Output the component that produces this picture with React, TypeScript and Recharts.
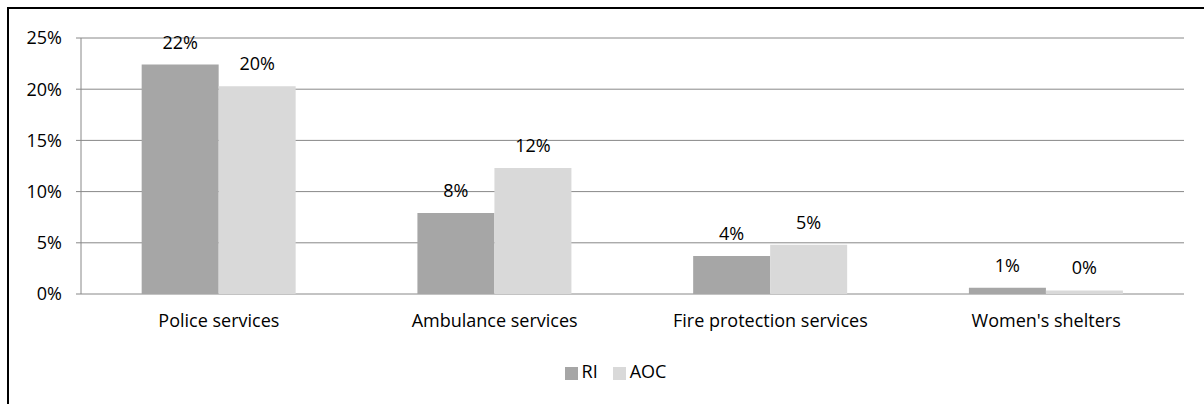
import { BarChart, Bar, XAxis, YAxis, CartesianGrid, Legend, LabelList } from "recharts";

const categories = ["Police services", "Ambulance services", "Fire protection services", "Women's shelters"];
const seriesNames = ["RI", "AOC"];
const riValues = [22.4, 7.9, 3.7, 0.6];
const aocValues = [20.3, 12.3, 4.8, 0.35];
const yTicks = [0, 5, 10, 15, 20, 25];
const edgeTicks = [0, 1, 2, 3, 4];

const data = categories.map((name, i) => ({ name, RI: riValues[i], AOC: aocValues[i] }));

const font = "'Open Sans', sans-serif";
const fontSize = 18;
const axisGray = "#888888";

const App = () => {
  return (
    <div style={{ position: "absolute", left: 0, top: 0, width: 1204, height: 404, background: "#fff", fontFamily: font, overflow: "hidden" }}>
      <div
        style={{
          position: "absolute",
          left: 7,
          top: 7,
          width: 1300,
          height: 500,
          borderLeft: "2px solid #000",
          borderTop: "2px solid #000",
        }}
      />
      <BarChart
        width={1204}
        height={404}
        data={data}
        margin={{ top: 38, right: 20, bottom: 20, left: 0 }}
        barCategoryGap="22%"
        barGap={0}
      >
        <CartesianGrid vertical={false} stroke={axisGray} xAxisId="cat" />
        <XAxis
          xAxisId="edge"
          type="number"
          domain={[0, 4]}
          ticks={edgeTicks}
          tick={false}
          height={0}
          tickSize={5}
          stroke={axisGray}
        />
        <XAxis
          xAxisId="cat"
          dataKey="name"
          axisLine={false}
          tickLine={false}
          height={65}
          tickMargin={14}
          tick={{ fill: "#000", fontSize, fontFamily: font }}
        />
        <YAxis
          domain={[0, 25]}
          ticks={yTicks}
          width={81}
          tickSize={5}
          tickMargin={14}
          stroke={axisGray}
          tickFormatter={(v) => `${v}%`}
          tick={{ fill: "#000", fontSize, fontFamily: font }}
        />
        <Legend
          iconType="square"
          iconSize={13}
          itemSorter={(item: any) => seriesNames.indexOf(item.dataKey)}
          wrapperStyle={{ lineHeight: "24px", paddingLeft: 31 }}
          formatter={(value) => (
            <span style={{ color: "#000", fontSize, fontFamily: font, paddingRight: 5 }}>{value}</span>
          )}
        />
        <Bar dataKey="RI" xAxisId="cat" fill="#a6a6a6" isAnimationActive={false}>
          <LabelList
            dataKey="RI"
            position="top"
            offset={16}
            formatter={(v: number) => `${Math.round(v)}%`}
            style={{ fill: "#000", fontSize, fontFamily: font }}
          />
        </Bar>
        <Bar dataKey="AOC" xAxisId="cat" fill="#d9d9d9" isAnimationActive={false}>
          <LabelList
            dataKey="AOC"
            position="top"
            offset={16}
            formatter={(v: number) => `${Math.round(v)}%`}
            style={{ fill: "#000", fontSize, fontFamily: font }}
          />
        </Bar>
      </BarChart>
    </div>
  );
};

export default App;
